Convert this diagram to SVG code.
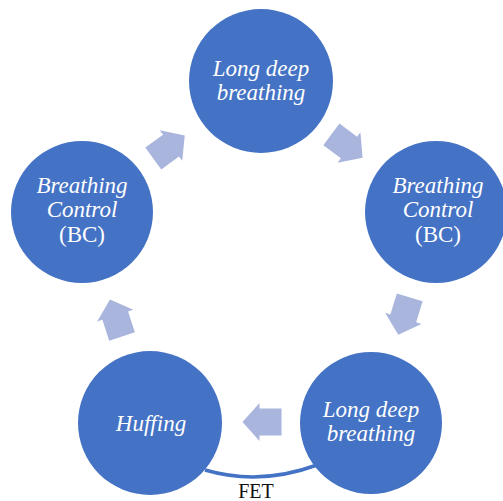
<svg xmlns="http://www.w3.org/2000/svg" xmlns:xlink="http://www.w3.org/1999/xlink" width="503" height="501" viewBox="0 0 503 501">
  <style>
    .node { fill: #4472C4; }
    .lbl { font-family: "Liberation Serif", Tinos, "Times New Roman", Times, "Nimbus Roman", "Nimbus Roman No9 L", FreeSerif, "DejaVu Serif", "Noto Serif", serif; font-size: 23px; fill: #FFFFFF; text-anchor: middle; font-style: italic; }
    .up { font-style: normal; }
    .arrow { fill: #A9B5DC; }
    .fet { fill: none; stroke: #4472C4; stroke-width: 3.5; }
    .fetlbl { font-family: "Liberation Serif", Tinos, "Times New Roman", Times, "Nimbus Roman", "Nimbus Roman No9 L", FreeSerif, "DejaVu Serif", "Noto Serif", serif; font-size: 20px; fill: #111111; text-anchor: middle; }
  </style>
  <defs>
    <path id="arr" class="arrow" d="M-19.5,-13.5 L2.5,-13.5 L2.5,-19 L19.5,0 L2.5,19 L2.5,13.5 L-19.5,13.5 Z"/>
  </defs>
  <rect width="503" height="501" fill="#FFFFFF"/>

  <g id="connectors">
    <use xlink:href="#arr" href="#arr" transform="translate(347,146) rotate(36.8)"/>
    <use xlink:href="#arr" href="#arr" transform="translate(404,316) rotate(107.1)"/>
    <use xlink:href="#arr" href="#arr" transform="translate(262,422) rotate(180)"/>
    <use xlink:href="#arr" href="#arr" transform="translate(116,318) rotate(252)"/>
    <use xlink:href="#arr" href="#arr" transform="translate(169,147) rotate(-36.2)"/>
    <path class="fet" d="M205,470 Q260,486 317,465"/>
    <text class="fetlbl" x="256" y="498">FET</text>
  </g>

  <g id="node-top">
    <circle class="node" cx="261" cy="81" r="72"/>
    <text class="lbl" x="261" y="76">Long deep</text>
    <text class="lbl" x="261" y="100">breathing</text>
  </g>

  <g id="node-right">
    <circle class="node" cx="436" cy="212" r="71"/>
    <text class="lbl" x="438" y="193">Breathing</text>
    <text class="lbl" x="438" y="217">Control</text>
    <text class="lbl up" x="438" y="242">(BC)</text>
  </g>

  <g id="node-bottom-right">
    <circle class="node" cx="371" cy="423" r="71"/>
    <text class="lbl" x="371" y="417">Long deep</text>
    <text class="lbl" x="371" y="441">breathing</text>
  </g>

  <g id="node-bottom-left">
    <circle class="node" cx="150" cy="423" r="72"/>
    <text class="lbl" x="151" y="431">Huffing</text>
  </g>

  <g id="node-left">
    <circle class="node" cx="82" cy="212" r="71"/>
    <text class="lbl" x="82" y="193">Breathing</text>
    <text class="lbl" x="82" y="217">Control</text>
    <text class="lbl up" x="82" y="242">(BC)</text>
  </g>
</svg>
